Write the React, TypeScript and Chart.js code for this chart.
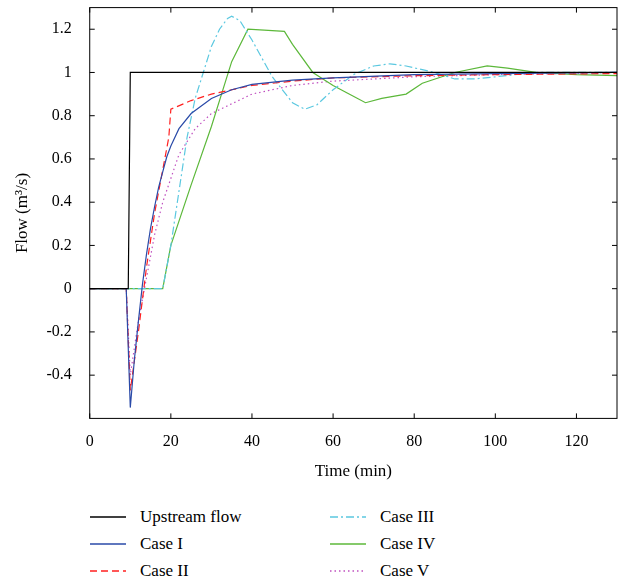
import React, { useEffect, useRef } from "react";
import { Chart, registerables } from "chart.js";
Chart.register(...registerables);

const upstreamX = [0, 9.5, 10, 130];
const upstreamY = [0, 0, 1, 1];
const case1X = [0, 9, 10, 11, 12, 13, 14, 15, 16, 17, 18, 19, 20, 22, 25, 30, 35, 40, 50, 60, 80, 100, 130];
const case1Y = [0, 0, -0.55, -0.33, -0.15, 0.02, 0.16, 0.28, 0.38, 0.47, 0.54, 0.61, 0.66, 0.74, 0.81, 0.88, 0.92, 0.945, 0.965, 0.975, 0.99, 0.995, 1];
const case2X = [0, 9, 10, 12, 14, 16, 18, 19.5, 20, 25, 30, 40, 50, 60, 80, 100, 130];
const case2Y = [0, 0, -0.47, -0.2, 0.1, 0.35, 0.55, 0.7, 0.83, 0.87, 0.9, 0.94, 0.96, 0.975, 0.985, 0.99, 0.995];
const case3X = [0, 17, 18, 20, 22, 24, 26, 28, 30, 32, 34, 35, 37, 40, 45, 50, 53, 56, 60, 65, 70, 74, 78, 85, 90, 95, 100, 110, 130];
const case3Y = [0, 0, 0, 0.2, 0.45, 0.7, 0.88, 1.0, 1.12, 1.2, 1.25, 1.26, 1.24, 1.15, 0.98, 0.86, 0.83, 0.85, 0.92, 0.99, 1.03, 1.04, 1.03, 1.0, 0.97, 0.97, 0.98, 1.0, 1.0];
const case4X = [0, 18, 20, 25, 30, 35, 39, 48, 50, 55, 60, 65, 68, 72, 78, 82, 90, 98, 103, 110, 120, 130];
const case4Y = [0, 0, 0.2, 0.48, 0.75, 1.05, 1.2, 1.19, 1.13, 1.0, 0.94, 0.89, 0.86, 0.88, 0.9, 0.95, 1.0, 1.03, 1.02, 1.0, 0.99, 0.985];
const case5X = [0, 9, 10, 12, 14, 16, 18, 22, 26, 30, 40, 50, 60, 80, 100, 130];
const case5Y = [0, 0, -0.4, -0.15, 0.05, 0.25, 0.4, 0.62, 0.74, 0.81, 0.9, 0.94, 0.96, 0.98, 0.99, 1];
const xTicks = [0, 20, 40, 60, 80, 100, 120];
const yTicks = [-0.4, -0.2, 0, 0.2, 0.4, 0.6, 0.8, 1, 1.2];

const series = [
  { label: "Upstream flow", xs: upstreamX, ys: upstreamY, color: "#000000", dash: [] as number[] },
  { label: "Case I", xs: case1X, ys: case1Y, color: "#2a4aa8", dash: [] },
  { label: "Case II", xs: case2X, ys: case2Y, color: "#ff2020", dash: [7, 4] },
  { label: "Case III", xs: case3X, ys: case3Y, color: "#5bc8e0", dash: [8, 3, 2, 3] },
  { label: "Case IV", xs: case4X, ys: case4Y, color: "#5cb83a", dash: [] },
  { label: "Case V", xs: case5X, ys: case5Y, color: "#c050c0", dash: [1.5, 3] },
];

const boxPlugin = {
  id: "box",
  afterDraw(chart: any) {
    const { ctx, chartArea: a, scales } = chart;
    ctx.save();
    ctx.strokeStyle = "#000";
    ctx.lineWidth = 1;
    ctx.strokeRect(a.left, a.top, a.right - a.left, a.bottom - a.top);
    ctx.beginPath();
    for (const t of xTicks) {
      const px = scales.x.getPixelForValue(t);
      ctx.moveTo(px, a.bottom); ctx.lineTo(px, a.bottom - 5);
      ctx.moveTo(px, a.top); ctx.lineTo(px, a.top + 5);
    }
    for (const t of yTicks) {
      const py = scales.y.getPixelForValue(t);
      ctx.moveTo(a.left, py); ctx.lineTo(a.left + 5, py);
      ctx.moveTo(a.right, py); ctx.lineTo(a.right - 5, py);
    }
    ctx.stroke();
    ctx.restore();
  },
};

export default function App() {
  const ref = useRef<HTMLCanvasElement>(null);
  useEffect(() => {
    const font = { family: "'Liberation Serif', serif", size: 16 };
    const chart = new Chart(ref.current!, {
      type: "line",
      data: {
        datasets: series.map((s) => ({
          label: s.label,
          data: s.xs.map((x, i) => ({ x, y: s.ys[i] })),
          borderColor: s.color,
          borderDash: s.dash,
          borderWidth: 1.2,
          pointRadius: 0,
          tension: 0,
          fill: false,
        })),
      },
      options: {
        animation: false,
        responsive: false,
        layout: { padding: { top: 4, right: 1, left: 8, bottom: 0 } },
        plugins: { legend: { display: false }, tooltip: { enabled: false } },
        scales: {
          x: {
            type: "linear", min: 0, max: 130,
            afterBuildTicks: (s: any) => { s.ticks = xTicks.map((v) => ({ value: v })); },
            grid: { display: false },
            border: { display: false },
            ticks: { color: "#000", font, padding: 6 },
            title: { display: true, text: "Time (min)", color: "#000", font: { ...font, size: 17 } },
          },
          y: {
            min: -0.6, max: 1.3,
            afterBuildTicks: (s: any) => { s.ticks = yTicks.map((v) => ({ value: v })); },
            grid: { display: false },
            border: { display: false },
            ticks: { color: "#000", font, padding: 10, callback: (v: any) => String(Math.round(v * 10) / 10) },
            title: { display: true, text: "Flow (m³/s)", color: "#000", font: { ...font, size: 17 } },
          },
        },
      },
      plugins: [boxPlugin],
    });
    return () => chart.destroy();
  }, []);

  const legendItem = (s: typeof series[number]) => (
    <div key={s.label} style={{ display: "flex", alignItems: "center", height: 27 }}>
      <svg width={36} height={10} style={{ marginRight: 14 }}>
        <line x1={0} y1={5} x2={36} y2={5} stroke={s.color} strokeWidth={1.3} strokeDasharray={s.dash.join(" ")} />
      </svg>
      <span>{s.label}</span>
    </div>
  );

  return (
    <div style={{ position: "absolute", left: 0, top: 0, width: 618, height: 585, background: "#fff", fontFamily: "'Liberation Serif', serif", fontSize: 17, overflow: "hidden" }}>
      <canvas ref={ref} width={618} height={498} style={{ position: "absolute", left: 0, top: -12 }} />
      <div style={{ position: "absolute", left: 90, top: 503, display: "flex" }}>
        <div style={{ width: 240 }}>{series.slice(0, 3).map(legendItem)}</div>
        <div>{series.slice(3).map(legendItem)}</div>
      </div>
    </div>
  );
}
